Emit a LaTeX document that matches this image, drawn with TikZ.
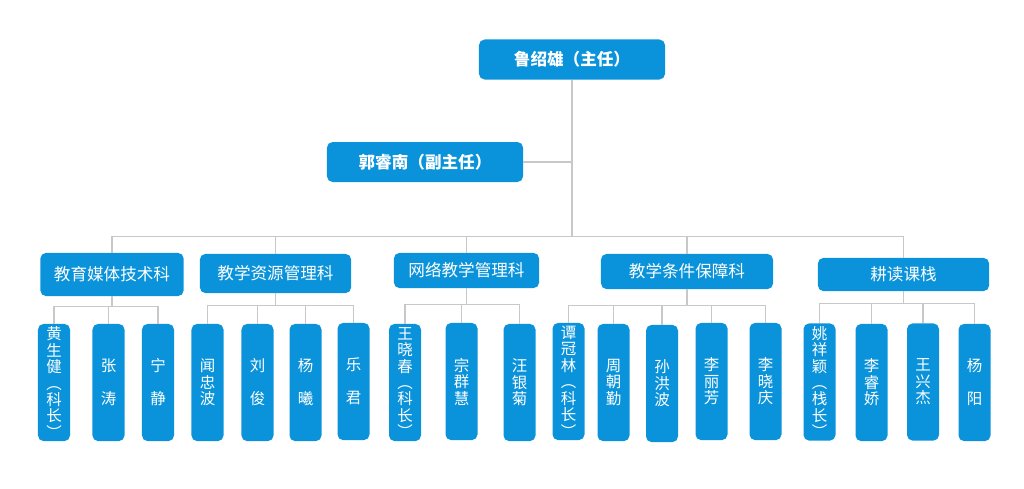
\documentclass[tikz,border=0pt]{standalone}
\usepackage{fontspec}
\setmainfont{Noto Sans CJK SC}
\definecolor{boxblue}{HTML}{0A93DA}
\definecolor{linegray}{HTML}{C8C8C8}
\newcommand{\twoname}[2]{#1\\[11.7pt]#2}
\begin{document}
\begin{tikzpicture}[x=0.025cm,y=-0.025cm]
    \tikzstyle{head} = [rectangle, rounded corners=4pt, fill=boxblue, text=white, font=\fontsize{11.8}{13}\selectfont\bfseries, minimum height=1cm, inner sep=0pt]
    \tikzstyle{dept} = [rectangle, rounded corners=4pt, fill=boxblue, text=white, font=\fontsize{11.8}{13}\selectfont, inner sep=0pt]
    \tikzstyle{member} = [rectangle, rounded corners=4pt, fill=boxblue, text=white, font=\fontsize{11}{11.7}\selectfont, align=center, minimum width=0.8cm, minimum height=2.93cm, inner sep=0pt]
    \tikzstyle{link} = [draw=linegray, line width=1pt]

    \useasboundingbox (0,0) rectangle (1024,488);

    % Leaders
    \node [head, minimum width=4.65cm] (director) at (572,59.5) {鲁绍雄（主任）};
    \node [head, minimum width=4.9cm] (deputy) at (425,162) {郭睿南（副主任）};

    % Departments
    \node [dept, minimum width=3.58cm, minimum height=1.08cm] (media) at (112,274.5) {教育媒体技术科};
    \node [dept, minimum width=3.78cm, minimum height=0.98cm] (resource) at (275.5,273.5) {教学资源管理科};
    \node [dept, minimum width=3.63cm, minimum height=0.88cm] (network) at (466.5,270.5) {网络教学管理科};
    \node [dept, minimum width=4.3cm, minimum height=0.88cm] (support) at (687,271.5) {教学条件保障科};
    \node [dept, minimum width=4.28cm, minimum height=0.83cm] (farm) at (903.5,274.5) {耕读课栈};

    % Staff
    \node [member] (huang) at (54,382.5) {黄\\生\\健\\︵\\科\\长\\︶};
    \node [member] (zhangt) at (108.5,382.5) {\twoname{张}{涛}};
    \node [member] (ning) at (158,382.5) {\twoname{宁}{静}};

    \node [member] (wen) at (207.5,382.5) {闻\\忠\\波};
    \node [member] (liu) at (257.5,382.5) {\twoname{刘}{俊}};
    \node [member] (yangx) at (305.5,382.5) {\twoname{杨}{曦}};
    \node [member] (yue) at (353.5,381.5) {\twoname{乐}{君}};

    \node [member] (wangxc) at (405,382.5) {王\\晓\\春\\︵\\科\\长\\︶};
    \node [member] (zong) at (461.5,381.5) {宗\\群\\慧};
    \node [member] (wangyj) at (519.5,382.5) {汪\\银\\菊};

    \node [member] (tan) at (568.5,381.5) {谭\\冠\\林\\︵\\科\\长\\︶};
    \node [member] (zhou) at (613.5,382.5) {周\\朝\\勤};
    \node [member] (sun) at (662,383.5) {孙\\洪\\波};
    \node [member] (lilf) at (711.5,381.5) {李\\丽\\芳};
    \node [member] (lixq) at (765.5,381.5) {李\\晓\\庆};

    \node [member] (yao) at (819.5,382) {姚\\祥\\颖\\︵\\栈\\长\\︶};
    \node [member] (lirj) at (871.5,382.5) {李\\睿\\娇};
    \node [member] (wangxj) at (923,382) {王\\兴\\杰};
    \node [member] (yangy) at (974.5,382.5) {\twoname{杨}{阳}};

    % Connectors
    \draw [link] (deputy.east) -- (deputy.east -| director.south);
    \foreach \d in {media,resource,network,support,farm}
        \draw [link] (director.south) -- ++(0,157) -| (\d.north);
    \foreach \m in {huang,zhangt,ning}
        \draw [link] (media.south) -- ++(0,10) -| (\m.north);
    \foreach \m in {wen,liu,yangx,yue}
        \draw [link] (resource.south) -- ++(0,12) -| (\m.north);
    \foreach \m in {wangxc,zong,wangyj}
        \draw [link] (network.south) -- ++(0,16) -| (\m.north);
    \foreach \m in {tan,zhou,sun,lilf,lixq}
        \draw [link] (support.south) -- ++(0,16) -| (\m.north);
    \foreach \m in {yao,lirj,wangxj,yangy}
        \draw [link] (farm.south) -- ++(0,12) -| (\m.north);

\end{tikzpicture}
\end{document}
